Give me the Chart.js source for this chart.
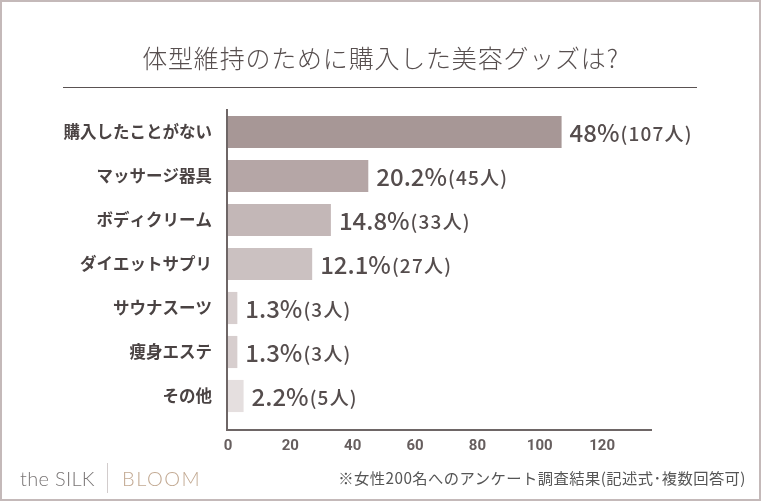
<!DOCTYPE html>
<html>
<head>
<meta charset="utf-8">
<script src="https://cdn.jsdelivr.net/npm/chart.js@4.4.0/dist/chart.umd.min.js"></script>
<style>
  body { margin: 0; background: #fff; }
  #wrap { position: relative; width: 761px; height: 501px; overflow: hidden; font-family: "Noto Sans CJK JP", sans-serif; }
  #c { position: absolute; left: 0; top: 0; }
  #frame { position: absolute; left: 0; top: 0; width: 761px; height: 501px; box-sizing: border-box; border: 2px solid #c4b9b9; pointer-events: none; }
  #title { position: absolute; left: 0; top: 40px; width: 761px; text-align: center; font-size: 25px; line-height: 34px; font-weight: 300; color: #574f4f; letter-spacing: 0.8px; }
  #rule { position: absolute; left: 63px; top: 87px; width: 634px; height: 1px; background: #5a5252; }
  #logo1, #logo2 { position: absolute; top: 464px; font-family: Lato, sans-serif; font-weight: 300; font-size: 20px; line-height: 28px; }
  #logo1 { left: 20px; color: #7a7676; letter-spacing: 0.3px; }
  #logo2 { left: 122px; color: #c2a992; letter-spacing: 1.5px; }
  #sep { position: absolute; left: 107px; top: 463px; width: 1px; height: 30px; background: #d2cccc; }
  #note { position: absolute; right: 15px; top: 467px; font-size: 15.3px; line-height: 20px; color: #555; letter-spacing: 0.45px; }
</style>
</head>
<body>
<div id="wrap">
  <canvas id="c" width="761" height="501"></canvas>
  <div id="title">体型維持のために購入した美容グッズは?</div>
  <div id="rule"></div>
  <div id="logo1">the SILK</div>
  <div id="sep"></div>
  <div id="logo2">BLOOM</div>
  <div id="note">※女性200名へのアンケート調査結果(記述式･複数回答可)</div>
  <div id="frame"></div>
</div>
<script>
const categories = ['購入したことがない', 'マッサージ器具', 'ボディクリーム', 'ダイエットサプリ', 'サウナスーツ', '痩身エステ', 'その他'];
const people = [107, 45, 33, 27, 3, 3, 5];
const percents = ['48', '20.2', '14.8', '12.1', '1.3', '1.3', '2.2'];
const barColors = ['#a79796', '#b5a6a6', '#c3b7b7', '#cbc1c1', '#d7cece', '#d7cece', '#e5dfdf'];
const xMax = 136;

const textColor = '#4a4343';
const axisColor = '#6e6666';

// axis lines + value labels
const extras = {
    id: 'extras',
    afterDatasetsDraw(chart) {
        const ctx = chart.ctx;
        const area = chart.chartArea;
        const x0 = chart.scales.x.getPixelForValue(0);
        const axisY = area.bottom + 12;

        ctx.save();
        ctx.strokeStyle = axisColor;
        ctx.lineWidth = 2;
        ctx.beginPath();
        ctx.moveTo(x0 - 1, area.top - 1);
        ctx.lineTo(x0 - 1, axisY + 1);
        ctx.moveTo(x0 - 2, axisY);
        ctx.lineTo(area.right, axisY);
        ctx.stroke();

        const meta = chart.getDatasetMeta(0);
        ctx.fillStyle = '#554d4d';
        ctx.textBaseline = 'alphabetic';
        ctx.textAlign = 'left';
        meta.data.forEach((bar, i) => {
            const big = percents[i] + '%';
            const small = '(' + people[i] + '人)';
            let x = bar.x + 8;
            const y = bar.y + 10;
            ctx.font = '500 24px "Noto Sans CJK JP", sans-serif';
            ctx.letterSpacing = '0px';
            ctx.fillText(big, x, y);
            x += ctx.measureText(big).width + 1;
            ctx.font = '500 19px "Noto Sans CJK JP", sans-serif';
            ctx.letterSpacing = '1.2px';
            ctx.fillText(small, x, y - 1);
        });
        ctx.restore();
    }
};

new Chart(document.getElementById('c'), {
    type: 'bar',
    data: {
        labels: categories,
        datasets: [{
            data: people,
            backgroundColor: barColors,
            borderWidth: 0,
            barPercentage: 0.73,
            categoryPercentage: 1
        }]
    },
    options: {
        indexAxis: 'y',
        responsive: false,
        animation: false,
        layout: { padding: { top: 110, right: 109, bottom: 43, left: 0 } },
        plugins: { legend: { display: false }, tooltip: { enabled: false } },
        scales: {
            y: {
                grid: { display: false },
                border: { display: false },
                ticks: {
                    color: textColor,
                    padding: 8,
                    font: { family: '"Noto Sans CJK JP", sans-serif', size: 16.5, weight: 'bold' }
                },
                afterFit(scale) { scale.width = 228; }
            },
            x: {
                min: 0,
                max: xMax,
                grid: { display: false },
                border: { display: false },
                ticks: {
                    stepSize: 20,
                    includeBounds: false,
                    color: '#665e5e',
                    padding: 11,
                    font: { family: '"Liberation Sans Narrow", Roboto, sans-serif', size: 15, weight: 'bold' }
                },
                afterFit(scale) { scale.height = 40; }
            }
        }
    },
    plugins: [extras]
});
</script>
</body>
</html>
